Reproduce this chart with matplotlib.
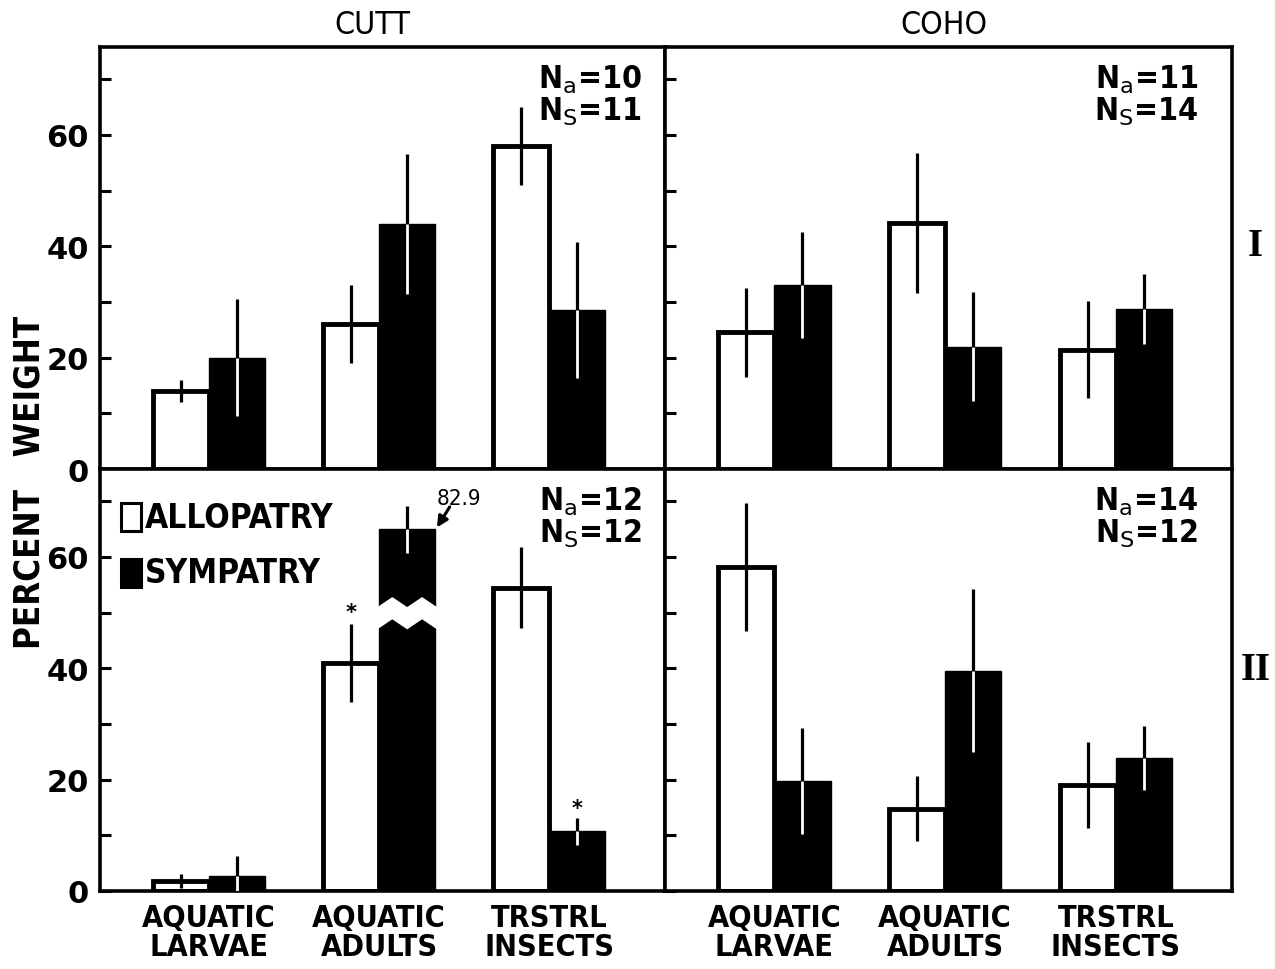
import matplotlib
matplotlib.use("Agg")
import matplotlib.pyplot as plt
from matplotlib.patches import Rectangle, Polygon
from matplotlib import font_manager as fm
import numpy as np

# ---------------- data ----------------
categories = ["AQUATIC\nLARVAE", "AQUATIC\nADULTS", "TRSTRL\nINSECTS"]

cutt_I_allo = [14.0, 26.0, 58.0]
cutt_I_allo_err = [2.0, 7.0, 7.0]
cutt_I_symp = [20.0, 44.0, 28.5]
cutt_I_symp_err = [10.5, 12.5, 12.2]

coho_I_allo = [24.6, 44.2, 21.4]
coho_I_allo_err = [8.0, 12.5, 8.7]
coho_I_symp = [33.0, 22.0, 28.7]
coho_I_symp_err = [9.5, 9.8, 6.3]

cutt_II_allo = [1.8, 41.0, 54.5]
cutt_II_allo_err = [1.2, 7.0, 7.3]
cutt_II_symp = [2.7, 82.9, 10.7]
cutt_II_symp_err = [3.6, 4.2, 2.4]

coho_II_allo = [58.2, 14.8, 19.1]
coho_II_allo_err = [11.5, 5.8, 7.7]
coho_II_symp = [19.8, 39.6, 23.9]
coho_II_symp_err = [9.5, 14.6, 5.8]

n_labels = {("CUTT", "I"): (10, 11), ("COHO", "I"): (11, 14),
            ("CUTT", "II"): (12, 12), ("COHO", "II"): (14, 12)}
species = ["CUTT", "COHO"]
rows = ["I", "II"]
y_major = [0, 20, 40, 60]
y_minor = [10, 30, 50, 70]
axis_cap = 65.0  # display cap for the broken bar

# ---------------- fonts ----------------
names = {f.name for f in fm.fontManager.ttflist}
NARROW = "Liberation Sans Narrow" if "Liberation Sans Narrow" in names else "DejaVu Sans"
STRETCH = "normal" if NARROW == "Liberation Sans Narrow" else "condensed"
plt.rcParams["mathtext.fontset"] = "custom"
plt.rcParams["mathtext.rm"] = NARROW
plt.rcParams["mathtext.it"] = NARROW
plt.rcParams["mathtext.bf"] = NARROW + ":bold"

W, H = 1275, 970
fig = plt.figure(figsize=(W / 100, H / 100), dpi=100)
fig.patch.set_facecolor("white")


def px_axes(x0, y0, x1, y1):
    return fig.add_axes([x0 / W, 1 - y1 / H, (x1 - x0) / W, (y1 - y0) / H])


axes = {
    ("CUTT", "I"): px_axes(100, 48, 665, 470),
    ("COHO", "I"): px_axes(665, 48, 1232, 470),
    ("CUTT", "II"): px_axes(100, 470, 665, 892),
    ("COHO", "II"): px_axes(665, 470, 1232, 892),
}

data = {
    ("CUTT", "I"): (cutt_I_allo, cutt_I_allo_err, cutt_I_symp, cutt_I_symp_err),
    ("COHO", "I"): (coho_I_allo, coho_I_allo_err, coho_I_symp, coho_I_symp_err),
    ("CUTT", "II"): (cutt_II_allo, cutt_II_allo_err, cutt_II_symp, cutt_II_symp_err),
    ("COHO", "II"): (coho_II_allo, coho_II_allo_err, coho_II_symp, coho_II_symp_err),
}

x = np.arange(1, len(categories) + 1)
bw = 0.33

for (sp, row), ax in axes.items():
    allo, allo_e, symp, symp_e = [np.array(v, dtype=float) for v in data[(sp, row)]]
    symp_disp = np.minimum(symp, axis_cap)

    ax.bar(x - bw / 2, allo, width=bw, facecolor="white", edgecolor="black",
           linewidth=3.5, zorder=2)
    ax.bar(x + bw / 2, symp_disp, width=bw, facecolor="black", edgecolor="black",
           linewidth=1.0, zorder=3)

    # error bars: open bars -> black full line
    ax.vlines(x - bw / 2, np.maximum(allo - allo_e, 0), allo + allo_e,
              color="black", lw=2.3, zorder=4)
    # filled bars -> black above, white inside
    ax.vlines(x + bw / 2, symp_disp, symp_disp + symp_e, color="black", lw=2.3, zorder=4)
    ax.vlines(x + bw / 2, np.maximum(symp_disp - symp_e, 0), symp_disp,
              color="white", lw=2.0, zorder=4)

    # broken bar (values beyond the display cap)
    for i in np.where(symp > axis_cap)[0]:
        xl = x[i] - 0.01
        xr = x[i] + bw + 0.01
        w = xr - xl
        lo, hi, amp = 47.0, 51.0, 1.8
        pts = [(xl, lo), (xl + w / 4, lo + amp), (xl + w / 2, lo), (xl + 3 * w / 4, lo + amp), (xr, lo),
               (xr, hi), (xl + 3 * w / 4, hi + amp), (xl + w / 2, hi), (xl + w / 4, hi + amp), (xl, hi)]
        ax.add_patch(Polygon(pts, closed=True, facecolor="white", edgecolor="none", zorder=3.5))
        tip_x = x[i] + bw + 0.01
        ax.text(tip_x + 0.13, 70.6, f"{symp[i]:.1f}", fontsize=16, family=NARROW,
                fontstretch=STRETCH, ha="center", va="center")
        ax.annotate("", xy=(tip_x, axis_cap + 0.3), xytext=(tip_x + 0.075, 69.0),
                    arrowprops=dict(arrowstyle="-|>", color="black", lw=2.2,
                                    mutation_scale=16, shrinkA=0, shrinkB=0))

    ax.set_xlim(0.36, 3.68)
    ax.set_ylim(0, 75.8)
    ax.set_yticks(y_major)
    ax.set_yticks(y_minor, minor=True)
    ax.tick_params(axis="y", which="both", direction="in", length=8, width=2.2,
                   left=True, right=False, pad=8)
    if sp == "CUTT":
        ax.set_yticklabels([str(v) for v in y_major], fontsize=22, fontweight="bold",
                           family="DejaVu Sans")
    else:
        ax.set_yticklabels([])
    ax.set_xticks(x)
    if row == "II":
        ax.set_xticklabels(categories, fontsize=22, family=NARROW, fontstretch=STRETCH,
                           fontweight="bold", linespacing=1.0)
    else:
        ax.set_xticklabels([])
    ax.tick_params(axis="x", length=0, pad=9)
    for s in ax.spines.values():
        s.set_linewidth(2.6)

    na, ns = n_labels[(sp, row)]
    xr_txt = 0.959 if sp == "CUTT" else 0.94
    ax.text(xr_txt, 0.925, f"N$_{{a}}$=" + f"{na}", transform=ax.transAxes, ha="right",
            va="center", fontsize=23, fontweight="bold", family=NARROW, fontstretch=STRETCH)
    ax.text(xr_txt, 0.848, f"N$_{{S}}$=" + f"{ns}", transform=ax.transAxes, ha="right",
            va="center", fontsize=23, fontweight="bold", family=NARROW, fontstretch=STRETCH)

# significance asterisks
ax_c2 = axes[("CUTT", "II")]
ax_c2.text(x[1] - bw / 2, cutt_II_allo[1] + cutt_II_allo_err[1] + 2.2, "*", ha="center",
           va="center", fontsize=15, fontweight="bold")
ax_c2.text(x[2] + bw / 2, cutt_II_symp[2] + cutt_II_symp_err[2] + 1.8, "*", ha="center",
           va="center", fontsize=15, fontweight="bold")

# legend (manual)
ax_c2.add_patch(Rectangle((0.037, 0.853), 0.036, 0.066, transform=ax_c2.transAxes,
                          facecolor="white", edgecolor="black", lw=2.2, zorder=5))
ax_c2.add_patch(Rectangle((0.037, 0.720), 0.036, 0.066, transform=ax_c2.transAxes,
                          facecolor="black", edgecolor="black", lw=2.2, zorder=5))
ax_c2.text(0.080, 0.886, "ALLOPATRY", transform=ax_c2.transAxes, ha="left", va="center",
           fontsize=24, family=NARROW, fontstretch=STRETCH, fontweight="bold")
ax_c2.text(0.080, 0.754, "SYMPATRY", transform=ax_c2.transAxes, ha="left", va="center",
           fontsize=24, family=NARROW, fontstretch=STRETCH, fontweight="bold")

# titles and labels
fig.text(372 / W, 1 - 25 / H, species[0], ha="center", va="center", fontsize=23,
         family=NARROW, fontstretch=STRETCH)
fig.text(944 / W, 1 - 25 / H, species[1], ha="center", va="center", fontsize=23,
         family=NARROW, fontstretch=STRETCH)
fig.text(30 / W, 1 - 482 / H, "PERCENT   WEIGHT", rotation=90, ha="center", va="center",
         fontsize=25, family=NARROW, fontstretch=STRETCH, fontweight="bold")
fig.text(1255 / W, 1 - 247 / H, rows[0], ha="center", va="center", fontsize=28,
         fontweight="bold", family="Liberation Serif")
fig.text(1256 / W, 1 - 671 / H, rows[1], ha="center", va="center", fontsize=28,
         fontweight="bold", family="Liberation Serif")

fig.savefig("out.png", dpi=100, facecolor="white")
